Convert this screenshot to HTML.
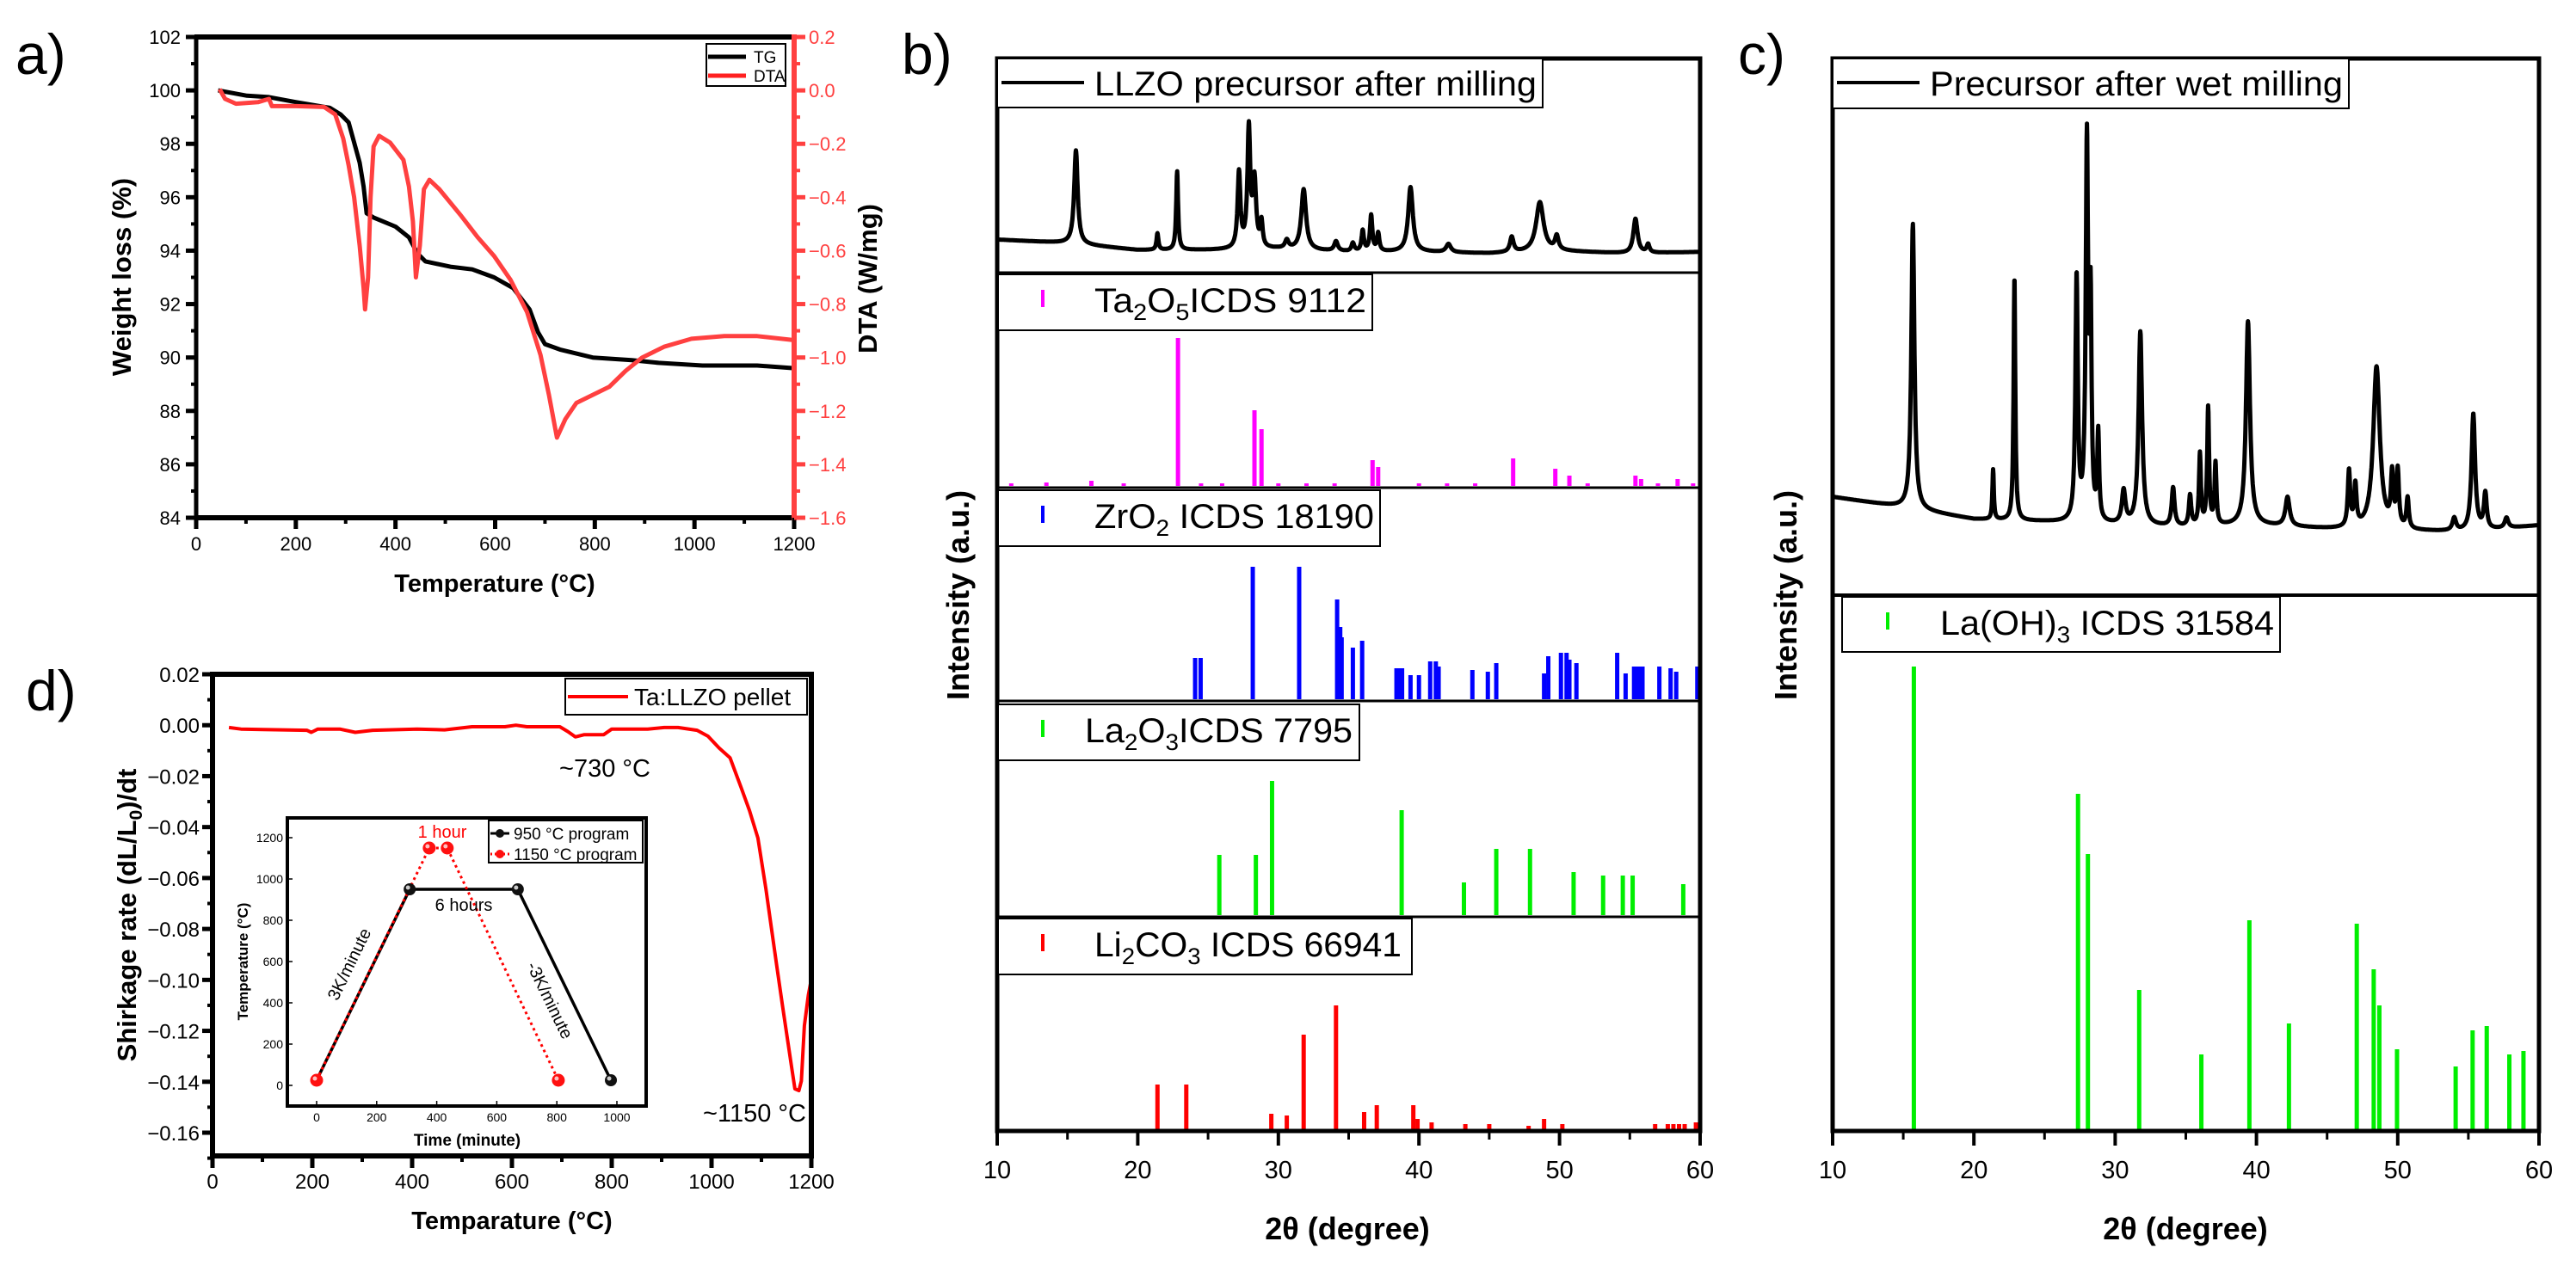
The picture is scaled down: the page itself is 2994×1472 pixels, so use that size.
<!DOCTYPE html>
<html><head><meta charset="utf-8"><title>TG/DTA, XRD and dilatometry figure</title>
<style>
html,body{margin:0;padding:0;background:#fff;}
svg{display:block;font-family:"Liberation Sans",Arial,sans-serif;}
</style></head>
<body>
<svg id="fig" xmlns="http://www.w3.org/2000/svg" width="2994" height="1472" viewBox="0 0 2994 1472">
<rect x="0" y="0" width="2994" height="1472" fill="#fff"/>
</svg>
<script>
// ---------- Panel a data ----------
const tgTemps = [44,102,146,201,268,290,306,317,328,336,342,356,400,427,444,460,510,554,598,636,669,686,700,730,796,874,928,1016,1126,1200];
const tgValues = [100,99.8,99.75,99.56,99.35,99.1,98.8,98.05,97.3,96.4,95.4,95.24,94.9,94.5,93.9,93.6,93.4,93.3,93.0,92.6,91.8,90.95,90.5,90.3,90.0,89.9,89.8,89.7,89.7,89.6];
const dtaTemps = [47,58,80,124,146,152,201,257,279,295,306,317,328,336,339,345,350,356,367,389,416,427,435,441,449,457,468,488,532,565,598,631,664,691,708,724,741,763,796,829,862,895,939,994,1060,1126,1200];
const dtaValues = [0.005,-0.032,-0.05,-0.044,-0.032,-0.059,-0.059,-0.062,-0.09,-0.18,-0.28,-0.40,-0.58,-0.74,-0.82,-0.70,-0.40,-0.21,-0.17,-0.195,-0.26,-0.36,-0.49,-0.70,-0.58,-0.37,-0.335,-0.37,-0.47,-0.55,-0.62,-0.71,-0.83,-0.99,-1.14,-1.30,-1.23,-1.17,-1.14,-1.11,-1.05,-1.0,-0.96,-0.93,-0.92,-0.92,-0.935];
const aXTicks = [0,200,400,600,800,1000,1200];
const aYTicks = [84,86,88,90,92,94,96,98,100,102];
const aY2Ticks = [-1.6,-1.4,-1.2,-1.0,-0.8,-0.6,-0.4,-0.2,0.0,0.2];

// ---------- Panel d data ----------
const dTemps = [33,57,101,189,198,211,255,286,321,410,465,520,586,608,630,696,712,727,745,784,800,872,905,933,971,993,1015,1037,1059,1076,1093,1109,1120,1131,1142,1153,1161,1167,1175,1180,1186,1194,1200];
const dValues = [-0.0009,-0.0015,-0.0017,-0.002,-0.0028,-0.0015,-0.0015,-0.0028,-0.002,-0.0015,-0.0018,-0.0006,-0.0006,0,-0.0006,-0.0006,-0.0025,-0.0046,-0.0037,-0.0037,-0.0015,-0.0015,-0.0009,-0.0009,-0.002,-0.0043,-0.0089,-0.0128,-0.0243,-0.0335,-0.0443,-0.0643,-0.0797,-0.095,-0.110,-0.1243,-0.135,-0.1428,-0.1435,-0.1397,-0.118,-0.106,-0.0997];
const dXTicks = [0,200,400,600,800,1000,1200];
const dYTicks = [0.02,0.00,-0.02,-0.04,-0.06,-0.08,-0.10,-0.12,-0.14,-0.16];
const insetTime950 = [0,310,670,980];
const insetTemp950 = [25,950,950,25];
const insetTime1150 = [0,375,435,805];
const insetTemp1150 = [25,1150,1150,25];
const insetXTicks = [0,200,400,600,800,1000];
const insetYTicks = [0,200,400,600,800,1000,1200];

// ---------- Panel b data ----------
const llzoPeakPos = [15.6,21.4,22.8,27.2,27.9,28.3,28.8,30.6,31.8,34.1,35.3,36.0,36.6,37.1,39.4,42.1,46.6,48.6,49.8,55.4,56.3];
const llzoPeakAmp = [68,12,57,55,86,48,18,6,44,7,6,15,26,13,47,6,11,36,10,25,6];
const llzoPeakWid = [0.15,0.08,0.08,0.12,0.12,0.14,0.1,0.15,0.2,0.15,0.12,0.1,0.1,0.1,0.2,0.2,0.15,0.32,0.15,0.18,0.12];
const llzoBaseX = [10,15,20,25,30,35,40,45,50,55,60];
const llzoBaseY = [13.4,10.8,5.8,5.8,6.5,4.4,4.4,3.3,4.9,3.3,4.4];
const ta2o5Pos = [11,13.5,16.7,19,22.86,24.5,26,28.3,28.8,30,32,34,36.7,37.1,40,42,44,46.7,49.7,50.7,52,55.4,55.8,57,58.4,59.5];
const ta2o5Int = [1.5,2,3,1.5,86,1.5,1.5,44,33,1.5,1.5,1.5,15,11,1.5,1.5,1.5,16,10,6,1.5,6,4,1.5,4,1.5];
const zro2Pos = [24.08,24.47,28.18,31.48,34.18,34.4,34.5,35.3,35.96,38.4,38.55,38.8,39.4,40.0,40.8,41.2,41.4,43.8,44.9,45.5,48.9,49.2,50.1,50.5,50.7,51.2,54.1,54.7,55.3,55.5,55.7,55.9,57.1,57.9,58.3,59.8];
const zro2Int = [24,24,77,77,58,42,36,30,34,18,18,18,14,14,22,22,19,17,16,21,15,25,27,27,23,21,27,15,19,19,19,19,19,18,16,19];
const la2o3Pos = [25.8,28.4,29.55,38.77,43.2,45.5,47.9,51.0,53.1,54.5,55.2,58.8];
const la2o3Int = [35,35,78,61,19,38.5,38.5,25,23,23,23,18];
const li2co3Pos = [21.4,23.45,29.5,30.6,31.8,34.1,36.1,37.0,39.6,39.9,40.9,43.3,45.0,47.8,48.9,50.2,56.8,57.7,58.1,58.5,58.9,59.7];
const li2co3Int = [26,26,9,8,55,72,10,14,14,6,4,3,3,2,6,3,3,3,3,3,3,4];
const xrdTicks = [10,20,30,40,50,60];

// ---------- Panel c data ----------
const wetPeakPos = [15.68,21.36,22.87,27.27,28.0,28.26,28.8,30.6,31.78,34.1,35.3,36.0,36.58,37.1,39.4,42.2,46.55,47.0,48.5,49.6,50.0,50.7,54.0,55.35,56.2,57.7];
const wetPeakAmp = [56,9.8,48,48,74,40,17,6.5,38,7.5,6,14,23,12,40,5.7,11,8,32,10,11,6,2.5,23,7,2];
const wetPeakWid = [0.13,0.06,0.07,0.1,0.1,0.08,0.08,0.15,0.15,0.12,0.1,0.08,0.08,0.08,0.17,0.18,0.1,0.1,0.28,0.1,0.1,0.1,0.15,0.15,0.12,0.15];
const wetBaseX = [10,15,20,25,30,35,40,45,50,55,60];
const wetBaseY = [19.3,17.2,14.9,14.4,13.7,13.3,13.7,13.0,12.6,12.4,13.7];
const laoh3Pos = [15.75,27.37,28.07,31.7,36.1,39.5,42.3,47.1,48.3,48.7,49.95,54.1,55.3,56.3,57.9,58.9];
const laoh3Int = [107.6,78,64,32.4,17.4,48.6,24.6,47.8,37.2,28.8,18.6,14.6,23,24,17.4,18.2];

const NS = 'http://www.w3.org/2000/svg';
const svg = document.getElementById('fig');
function mk(tag, attrs, name, parent){
  const el = document.createElementNS(NS, tag);
  for (const k in attrs) el.setAttribute(k, attrs[k]);
  
  
  (parent || svg).appendChild(el);
  return el;
}
function txt(x, y, s, opts, name, parent){
  const a = Object.assign({x:x, y:y, 'font-size':22, fill:'#000'}, opts || {});
  const t = mk('text', a, name, parent);
  t.textContent = s;
  return t;
}
function line(x1,y1,x2,y2,stroke,w,name,parent){
  return mk('line',{x1:x1,y1:y1,x2:x2,y2:y2,stroke:stroke,'stroke-width':w},name,parent);
}
function lin(d0,d1,p0,p1){ return v => p0 + (v-d0)/(d1-d0)*(p1-p0); }
function interp(xs, ys, x){
  if (x<=xs[0]) return ys[0];
  for (let i=1;i<xs.length;i++){ if (x<=xs[i]){ const f=(x-xs[i-1])/(xs[i]-xs[i-1]); return ys[i-1]+f*(ys[i]-ys[i-1]); } }
  return ys[ys.length-1];
}
function pathFrom(xs, ys, sx, sy){
  let d='';
  for (let i=0;i<xs.length;i++) d += (i?'L':'M') + sx(xs[i]).toFixed(1) + ' ' + sy(ys[i]).toFixed(1);
  return d;
}
function fmt(v,dec){ return v.toFixed(dec).replace('-', '\u2212'); }

// ================= PANEL A =================
const ga = mk('g', {}, 'panel-a');
txt(18, 86, 'a)', {'font-size':66}, 'panel-a-label', ga);
const aX = lin(0,1200,228,923), aY = lin(84,102,602,43), aY2 = lin(-1.6,0.2,602,43);
mk('path',{d:pathFrom(tgTemps,tgValues,aX,aY),fill:'none',stroke:'#000','stroke-width':5,'stroke-linejoin':'round'},'tg-curve',ga);
mk('path',{d:pathFrom(dtaTemps,dtaValues,aX,aY2),fill:'none',stroke:'#ff4040','stroke-width':5,'stroke-linejoin':'round'},'dta-curve',ga);
line(226,43,923,43,'#000',6,'panel-a-top-axis',ga);
line(228,41,228,604,'#000',5,'panel-a-left-axis',ga);
line(226,602,923,602,'#000',6,'panel-a-bottom-axis',ga);
line(923,40,923,605,'#ff4040',6,'panel-a-right-axis',ga);
aXTicks.forEach(v=>{
  line(aX(v),602,aX(v),615,'#000',5,'a-x-tick',ga);
  txt(aX(v),640,String(v),{'text-anchor':'middle'},'a-x-tick-label',ga);
});
for (let v=100; v<1200; v+=200) line(aX(v),602,aX(v),609,'#000',4,'a-x-minor-tick',ga);
aYTicks.forEach(v=>{
  line(216,aY(v),228,aY(v),'#000',5,'a-y-tick',ga);
  txt(210,aY(v)+8,String(v),{'text-anchor':'end'},'a-y-tick-label',ga);
});
for (let v=85; v<102; v+=2) line(222,aY(v),228,aY(v),'#000',4,'a-y-minor-tick',ga);
aY2Ticks.forEach(v=>{
  line(923,aY2(v),936,aY2(v),'#ff4040',5,'a-y2-tick',ga);
  txt(940,aY2(v)+8,fmt(v,1),{fill:'#ff4040'},'a-y2-tick-label',ga);
});
for (let v=-1.5; v<0.2; v+=0.2) line(923,aY2(v),930,aY2(v),'#ff4040',4,'a-y2-minor-tick',ga);
txt(575,688,'Temperature (°C)',{'text-anchor':'middle','font-size':29,'font-weight':'bold'},'a-x-axis-title',ga);
txt(0,0,'Weight loss (%)',{'text-anchor':'middle','font-size':31,'font-weight':'bold',transform:'translate(152,322) rotate(-90)'},'a-y-axis-title',ga);
txt(0,0,'DTA (W/mg)',{'text-anchor':'middle','font-size':31,'font-weight':'bold',transform:'translate(1019,324) rotate(-90)'},'a-y2-axis-title',ga);
const la = mk('g',{},'a-legend',ga);
mk('rect',{x:821,y:51,width:92,height:49,fill:'#fff',stroke:'#000','stroke-width':2},'a-legend-box',la);
line(823,66,867,66,'#000',5,'legend-tg-line',la);
txt(876,73,'TG',{'font-size':19},'legend-tg-label',la);
line(823,88,867,88,'#ff2020',5,'legend-dta-line',la);
txt(876,95,'DTA',{'font-size':19},'legend-dta-label',la);

// ================= PANEL D =================
const gd = mk('g', {}, 'panel-d');
txt(30,826,'d)',{'font-size':66},'panel-d-label',gd);
const dX = lin(0,1200,247,943), dY = lin(0.02,-0.16,784,1317);
mk('path',{d:pathFrom(dTemps,dValues,dX,dY),fill:'none',stroke:'#ff0000','stroke-width':4,'stroke-linejoin':'round'},'shrinkage-curve',gd);
mk('rect',{x:247,y:784,width:696,height:560,fill:'none',stroke:'#000','stroke-width':6},'panel-d-frame',gd);
dXTicks.forEach(v=>{
  line(dX(v),1344,dX(v),1358,'#000',5,'d-x-tick',gd);
  txt(dX(v),1382,String(v),{'text-anchor':'middle','font-size':24},'d-x-tick-label',gd);
});
for (let v=100; v<1200; v+=200) line(dX(v),1344,dX(v),1351,'#000',4,'d-x-minor-tick',gd);
dYTicks.forEach(v=>{
  line(235,dY(v),247,dY(v),'#000',5,'d-y-tick',gd);
  txt(232,dY(v)+9,fmt(v,2),{'text-anchor':'end','font-size':24},'d-y-tick-label',gd);
});
for (let v=0.01; v>-0.17; v-=0.02) line(241,dY(v),247,dY(v),'#000',4,'d-y-minor-tick',gd);
txt(595,1429,'Temparature (°C)',{'text-anchor':'middle','font-size':29,'font-weight':'bold'},'d-x-axis-title',gd);
const yt = txt(0,0,'',{'text-anchor':'middle','font-size':31,'font-weight':'bold',transform:'translate(158,1064) rotate(-90)'},'d-y-axis-title',gd);
yt.innerHTML = 'Shirkage rate (dL/L<tspan font-size="21" dy="7">0</tspan><tspan dy="-7">)/dt</tspan>';
txt(703,903,'~730 °C',{'text-anchor':'middle','font-size':29},'annotation-730',gd);
txt(877,1304,'~1150 °C',{'text-anchor':'middle','font-size':29},'annotation-1150',gd);
const ld = mk('g',{},'d-legend',gd);
mk('rect',{x:657,y:789,width:281,height:42,fill:'#fff',stroke:'#000','stroke-width':2},'d-legend-box',ld);
line(660,810,730,810,'#ff0000',4,'legend-pellet-line',ld);
txt(737,820,'Ta:LLZO pellet',{'font-size':28},'legend-pellet-label',ld);

// inset
const gi = mk('g',{},'inset-heating-program',gd);
mk('rect',{x:334,y:951,width:417,height:335,fill:'#fff',stroke:'#000','stroke-width':4},'inset-frame',gi);
const iX = lin(0,1000,368,717), iY = lin(0,1200,1262,974);
insetXTicks.forEach(v=>{
  line(iX(v),1286,iX(v),1280,'#000',1.5,'inset-x-tick',gi);
  txt(iX(v),1304,String(v),{'text-anchor':'middle','font-size':14},'inset-x-tick-label',gi);
});
insetYTicks.forEach(v=>{
  line(334,iY(v),340,iY(v),'#000',1.5,'inset-y-tick',gi);
  txt(329,iY(v)+5,String(v),{'text-anchor':'end','font-size':14},'inset-y-tick-label',gi);
});
txt(543,1332,'Time (minute)',{'text-anchor':'middle','font-size':19,'font-weight':'bold'},'inset-x-axis-title',gi);
txt(0,0,'Temperature (°C)',{'text-anchor':'middle','font-size':17,'font-weight':'bold',transform:'translate(288,1118) rotate(-90)'},'inset-y-axis-title',gi);
mk('path',{d:pathFrom(insetTime950,insetTemp950,iX,iY),fill:'none',stroke:'#000','stroke-width':3.5},'program-950-line',gi);
mk('path',{d:pathFrom(insetTime1150,insetTemp1150,iX,iY),fill:'none',stroke:'#ff0000','stroke-width':3,'stroke-dasharray':'3 4'},'program-1150-line',gi);
insetTime950.forEach((t,i)=>{
  mk('circle',{cx:iX(t),cy:iY(insetTemp950[i]),r:7,fill:'#111'},'program-950-point',gi);
  mk('circle',{cx:iX(t)-2,cy:iY(insetTemp950[i])-2,r:2.5,fill:'#ccc'},'program-950-point-highlight',gi);
});
insetTime1150.forEach((t,i)=>{
  mk('circle',{cx:iX(t),cy:iY(insetTemp1150[i]),r:7.5,fill:'#ff1010'},'program-1150-point',gi);
  mk('circle',{cx:iX(t)-2,cy:iY(insetTemp1150[i])-2,r:2.5,fill:'#ffc0c0'},'program-1150-point-highlight',gi);
});
txt(514,974,'1 hour',{'text-anchor':'middle','font-size':20,fill:'#ff0000'},'inset-1-hour-label',gi);
txt(539,1059,'6 hours',{'text-anchor':'middle','font-size':20},'inset-6-hours-label',gi);
txt(0,0,'3K/minute',{'text-anchor':'middle','font-size':20,transform:'translate(412,1124) rotate(-64)'},'inset-ramp-up-label',gi);
txt(0,0,'-3K/minute',{'text-anchor':'middle','font-size':20,transform:'translate(633,1166) rotate(64)'},'inset-ramp-down-label',gi);
const li = mk('g',{},'inset-legend',gi);
mk('rect',{x:568,y:954,width:179,height:49,fill:'#fff',stroke:'#000','stroke-width':2},'inset-legend-box',li);
line(570,969,592,969,'#000',3,'legend-950-line',li);
mk('circle',{cx:581,cy:969,r:5,fill:'#111'},'legend-950-marker',li);
txt(597,976,'950 °C program',{'font-size':19},'legend-950-label',li);
line(570,993,592,993,'#ff0000',3,'legend-1150-line',li).setAttribute('stroke-dasharray','2 3');
mk('circle',{cx:581,cy:993,r:5,fill:'#ff1010'},'legend-1150-marker',li);
txt(597,1000,'1150 °C program',{'font-size':19},'legend-1150-label',li);

// ================= XRD helpers =================
function curvePath(posArr, ampArr, widArr, bx, by, sx, sy){
  let d='';
  for (let i=0;i<=2500;i++){
    const t = 10 + i*0.02;
    let v = interp(bx, by, t);
    for (let k=0;k<posArr.length;k++){ const u=(t-posArr[k])/widArr[k]; v += ampArr[k]/(1+u*u); }
    d += (i?'L':'M') + sx(t).toFixed(1) + ' ' + sy(v).toFixed(1);
  }
  return d;
}
function sticks(posArr, intArr, sx, baseY, scale, color, name, parent){
  const g = mk('g',{},name,parent);
  posArr.forEach((p,i)=>{
    mk('rect',{x:sx(p)-2.5,y:baseY-intArr[i]*scale,width:5,height:intArr[i]*scale,fill:color},name+'-stick',g);
  });
  return g;
}
function xrdAxis(g, sx, yAxis, prefix){
  xrdTicks.forEach(v=>{
    line(sx(v),yAxis,sx(v),yAxis+16,'#000',4,prefix+'-x-tick',g);
    txt(sx(v),yAxis+54,String(v),{'text-anchor':'middle','font-size':29},prefix+'-x-tick-label',g);
  });
  for (let v=15; v<60; v+=10) line(sx(v),yAxis,sx(v),yAxis+9,'#000',3,prefix+'-x-minor-tick',g);
}
function legendBox(g, x, y, w, h, name){
  return mk('rect',{x:x,y:y,width:w,height:h,fill:'#fff',stroke:'#000','stroke-width':2},name,g);
}
function richText(g, x, y, html, len, name){
  const t = txt(x,y,'',{'font-size':40,textLength:len,lengthAdjust:'spacingAndGlyphs'},name,g);
  t.innerHTML = html;
  return t;
}

// ================= PANEL B =================
const gb = mk('g',{},'panel-b');
txt(1048,86,'b)',{'font-size':66},'panel-b-label',gb);
const bX = lin(10,60,1159,1976);
const bTops = [68,317,567,815,1066];
const bBots = [317,567,815,1066,1315];
mk('path',{d:curvePath(llzoPeakPos,llzoPeakAmp,llzoPeakWid,llzoBaseX,llzoBaseY,bX,lin(0,100,300,140)),fill:'none',stroke:'#000','stroke-width':5,'stroke-linejoin':'round'},'llzo-pattern',gb);
sticks(ta2o5Pos,ta2o5Int,bX,bBots[1]-2,2,'#ff00ff','ta2o5-reference',gb);
sticks(zro2Pos,zro2Int,bX,bBots[2]-2,2,'#0000ff','zro2-reference',gb);
sticks(la2o3Pos,la2o3Int,bX,bBots[3]-2,2,'#00ee00','la2o3-reference',gb);
sticks(li2co3Pos,li2co3Int,bX,bBots[4]-2,2,'#ff0000','li2co3-reference',gb);
for (let i=1;i<5;i++) line(1159,bTops[i],1976,bTops[i],'#000',3,'panel-b-divider',gb);
mk('rect',{x:1159,y:68,width:817,height:1247,fill:'none',stroke:'#000','stroke-width':5},'panel-b-frame',gb);
xrdAxis(gb,bX,1316,'b');
txt(1566,1441,'2θ (degree)',{'text-anchor':'middle','font-size':36,'font-weight':'bold'},'b-x-axis-title',gb);
txt(0,0,'Intensity (a.u.)',{'text-anchor':'middle','font-size':36,'font-weight':'bold',transform:'translate(1126,692) rotate(-90)'},'b-y-axis-title',gb);
const lb1 = mk('g',{},'legend-llzo',gb);
legendBox(lb1,1159,68,634,57,'legend-llzo-box');
line(1164,96,1260,96,'#000',4,'legend-llzo-line',lb1);
richText(lb1,1272,111,'LLZO precursor after milling',514,'legend-llzo-label');
const legB = [
  {name:'legend-ta2o5', y:319, w:435, color:'#ff00ff', html:'Ta<tspan font-size="27" dy="9">2</tspan><tspan dy="-9">O</tspan><tspan font-size="27" dy="9">5</tspan><tspan dy="-9">ICDS 9112</tspan>', len:316, tx:1272},
  {name:'legend-zro2', y:570, w:444, color:'#0000ff', html:'ZrO<tspan font-size="27" dy="9">2</tspan><tspan dy="-9"> ICDS 18190</tspan>', len:325, tx:1272},
  {name:'legend-la2o3', y:819, w:420, color:'#00ee00', html:'La<tspan font-size="27" dy="9">2</tspan><tspan dy="-9">O</tspan><tspan font-size="27" dy="9">3</tspan><tspan dy="-9">ICDS 7795</tspan>', len:311, tx:1261},
  {name:'legend-li2co3', y:1068, w:481, color:'#ff0000', html:'Li<tspan font-size="27" dy="9">2</tspan><tspan dy="-9">CO</tspan><tspan font-size="27" dy="9">3</tspan><tspan dy="-9"> ICDS 66941</tspan>', len:357, tx:1272}
];
legB.forEach(L=>{
  const g = mk('g',{},L.name,gb);
  legendBox(g,1160,L.y,L.w,65,L.name+'-box');
  line(1212,L.y+18,1212,L.y+38,L.color,4,L.name+'-marker',g);
  richText(g,L.tx,L.y+44,L.html,L.len,L.name+'-label');
});

// ================= PANEL C =================
const gc = mk('g',{},'panel-c');
txt(2020,86,'c)',{'font-size':66},'panel-c-label',gc);
const cX = lin(10,60,2130,2951);
mk('path',{d:curvePath(wetPeakPos,wetPeakAmp,wetPeakWid,wetBaseX,wetBaseY,cX,lin(0,100,692,100)),fill:'none',stroke:'#000','stroke-width':5,'stroke-linejoin':'round'},'wet-milled-pattern',gc);
sticks(laoh3Pos,laoh3Int,cX,1313,5,'#00ee00','laoh3-reference',gc);
line(2130,692,2951,692,'#000',4,'panel-c-divider',gc);
mk('rect',{x:2130,y:68,width:821,height:1247,fill:'none',stroke:'#000','stroke-width':5},'panel-c-frame',gc);
xrdAxis(gc,cX,1316,'c');
txt(2540,1441,'2θ (degree)',{'text-anchor':'middle','font-size':36,'font-weight':'bold'},'c-x-axis-title',gc);
txt(0,0,'Intensity (a.u.)',{'text-anchor':'middle','font-size':36,'font-weight':'bold',transform:'translate(2088,692) rotate(-90)'},'c-y-axis-title',gc);
const lc1 = mk('g',{},'legend-precursor',gc);
legendBox(lc1,2130,68,600,58,'legend-precursor-box');
line(2135,96,2231,96,'#000',4,'legend-precursor-line',lc1);
richText(lc1,2243,111,'Precursor after wet milling',480,'legend-precursor-label');
const lc2 = mk('g',{},'legend-laoh3',gc);
legendBox(lc2,2141,694,509,64,'legend-laoh3-box');
line(2194,712,2194,732,'#00ee00',4,'legend-laoh3-marker',lc2);
richText(lc2,2255,738,'La(OH)<tspan font-size="27" dy="9">3</tspan><tspan dy="-9"> ICDS 31584</tspan>',388,'legend-laoh3-label');
</script>
</body></html>
